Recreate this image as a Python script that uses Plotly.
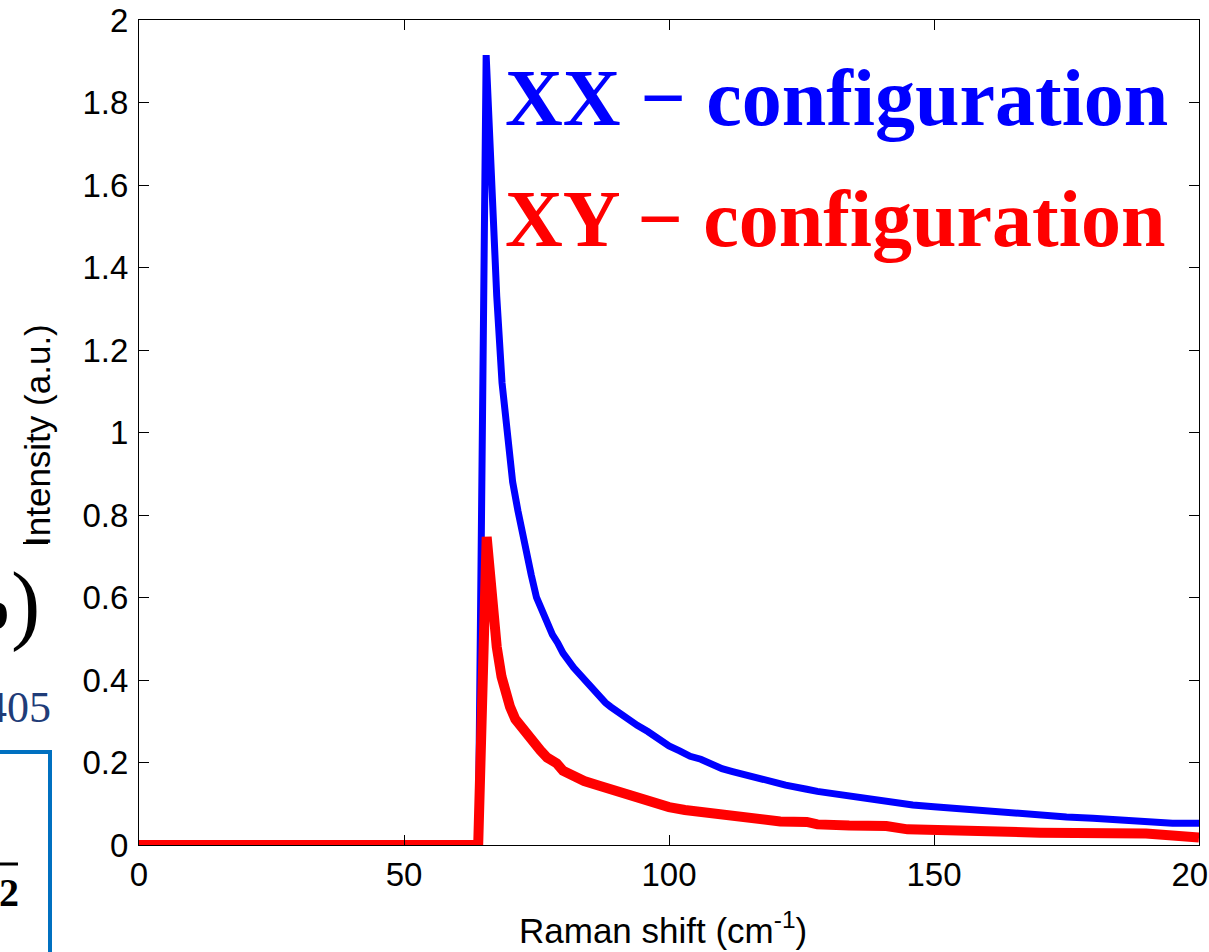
import plotly.graph_objects as go

# ---- data ----
xx_shift = [0, 64, 65.5, 66.5, 67.5, 68.5, 69.5, 70.5, 71.5, 72.5, 74, 75, 76, 77, 78, 79, 80,
            82, 84, 86, 87, 88, 89, 90, 92, 94, 96, 98, 100, 102, 104, 106, 108, 110, 112,
            114, 116, 118, 120, 122, 124, 126, 128, 130, 134, 138, 142, 146, 150, 155, 160,
            165, 170, 175, 180, 185, 190, 195, 200]
xx_intensity = [0, 0, 1.915, 1.60, 1.33, 1.12, 0.98, 0.88, 0.81, 0.74, 0.655, 0.60, 0.57, 0.535,
                0.51, 0.49, 0.465, 0.43, 0.40, 0.375, 0.36, 0.345, 0.335, 0.325, 0.305, 0.29,
                0.275, 0.255, 0.24, 0.228, 0.215, 0.208, 0.195, 0.185, 0.178, 0.172, 0.168,
                0.16, 0.152, 0.145, 0.142, 0.135, 0.13, 0.126, 0.117, 0.11, 0.104, 0.097,
                0.093, 0.088, 0.08, 0.075, 0.071, 0.068, 0.065, 0.06, 0.058, 0.053, 0.053]

xy_shift = [0, 64, 65.6, 66.8, 67.5, 68.4, 69.2, 70, 71, 72.5, 74, 75.7, 77, 78.8, 80, 81.9,
            84, 87, 90, 92, 95, 98, 100, 103, 106, 109, 112, 115, 118, 121, 126, 128, 134,
            141, 145, 150, 159, 170, 190, 195, 200]
xy_intensity = [0, 0, 0.747, 0.57, 0.48, 0.408, 0.365, 0.335, 0.305, 0.279, 0.25, 0.23, 0.212,
                0.198, 0.18, 0.165, 0.155, 0.143, 0.13, 0.122, 0.11, 0.095, 0.092, 0.085, 0.08,
                0.076, 0.07, 0.068, 0.062, 0.057, 0.056, 0.05, 0.047, 0.046, 0.038, 0.036,
                0.033, 0.03, 0.028, 0.022, 0.018]

x_ticks = [0, 50, 100, 150, 200]
x_ticklabels = ["0", "50", "100", "150", "200"]
y_ticks = [0, 0.2, 0.4, 0.6, 0.8, 1.0, 1.2, 1.4, 1.6, 1.8, 2.0]
y_ticklabels = ["0", "0.2", "0.4", "0.6", "0.8", "1", "1.2", "1.4", "1.6", "1.8", "2"]

x_title = "Raman shift (cm<sup>-1</sup>)"
y_title = "Intensity (a.u.)"
labels = ["XX \u2212 configuration", "XY \u2212 configuration"]
colors = ["#0000FF", "#FF0000"]

W, H = 1209, 952
L, R, T, B = 139, 10, 20, 107
PW, PH = W - L - R, H - T - B


def px(xp):
    return (xp - L) / PW


def py(yp):
    return (H - B - yp) / PH


fig = go.Figure()
fig.add_trace(go.Scatter(x=xx_shift, y=xx_intensity, mode="lines",
                         line=dict(color=colors[0], width=7), showlegend=False))
fig.add_trace(go.Scatter(x=xy_shift, y=xy_intensity, mode="lines",
                         line=dict(color=colors[1], width=10), showlegend=False))

sans = "Arial, Liberation Sans, sans-serif"
tick_font = dict(family=sans, size=33, color="black")
title_font = dict(family=sans, size=35, color="black")

common_axis = dict(ticks="inside", ticklen=10, tickwidth=1.3, tickcolor="black",
                   showline=True, linecolor="black", linewidth=1.3, mirror="ticks",
                   showgrid=False, zeroline=False, tickfont=tick_font, automargin=False,
                   ticklabeloverflow="allow")

fig.update_layout(
    width=W, height=H,
    margin=dict(l=L, r=R, t=T, b=B, pad=0, autoexpand=False),
    paper_bgcolor="white", plot_bgcolor="white",
    font=tick_font,
    xaxis=dict(range=[0, 200], tickvals=x_ticks, ticktext=x_ticklabels, **common_axis),
    yaxis=dict(range=[0, 2], tickvals=y_ticks, ticktext=y_ticklabels, ticklabelstandoff=3,
               **common_axis),
)

# axis titles
fig.add_annotation(text=x_title, xref="paper", yref="paper", x=px(663), y=py(928),
                   xanchor="center", yanchor="middle", showarrow=False, font=title_font)
fig.add_annotation(text=y_title, xref="paper", yref="paper", x=px(37), y=py(435),
                   xanchor="center", yanchor="middle", showarrow=False, textangle=-90,
                   font=title_font)

serif_bold = dict(family="Liberation Serif, DejaVu Serif, serif", size=80, weight="bold")
fig.add_annotation(text=labels[0], xref="paper", yref="paper", x=px(503), y=py(98),
                   xanchor="left", yanchor="middle", showarrow=False,
                   font=dict(**serif_bold, color=colors[0]))
fig.add_annotation(text=labels[1], xref="paper", yref="paper", x=px(503), y=py(219),
                   xanchor="left", yanchor="middle", showarrow=False,
                   font=dict(**serif_bold, color=colors[1]))

# ---- fragments of a neighbouring figure visible at the left edge ----
serif = "Liberation Serif, DejaVu Serif, serif"
fig.add_annotation(text="<b>b</b>", xref="paper", yref="paper", x=px(11), y=py(610),
                   xanchor="right", yanchor="middle", showarrow=False,
                   font=dict(family=serif, size=56, color="black"))
fig.add_annotation(text=")", xref="paper", yref="paper", x=px(25), y=py(603),
                   xanchor="center", yanchor="middle", showarrow=False,
                   font=dict(family=serif, size=88, color="black"))
fig.add_annotation(text="405", xref="paper", yref="paper", x=px(53), y=py(707),
                   xanchor="right", yanchor="middle", showarrow=False,
                   font=dict(family=serif, size=44, color="#1F3C78"))
fig.add_annotation(text="<b>2</b>", xref="paper", yref="paper", x=px(9), y=py(893),
                   xanchor="center", yanchor="middle", showarrow=False,
                   font=dict(family=serif, size=40, color="black"))
fig.add_shape(type="rect", xref="paper", yref="paper",
              x0=px(-30), x1=px(50), y0=py(990), y1=py(752),
              line=dict(color="#0070C0", width=4), fillcolor="rgba(0,0,0,0)", layer="above")
fig.add_shape(type="rect", xref="paper", yref="paper", x0=px(-2), x1=px(18),
              y0=py(865.5), y1=py(862.5), line=dict(width=0), fillcolor="black")
fig.add_shape(type="rect", xref="paper", yref="paper", x0=px(23), x1=px(48),
              y0=py(544), y1=py(542), line=dict(width=0), fillcolor="black")

fig.write_html("out.html")
